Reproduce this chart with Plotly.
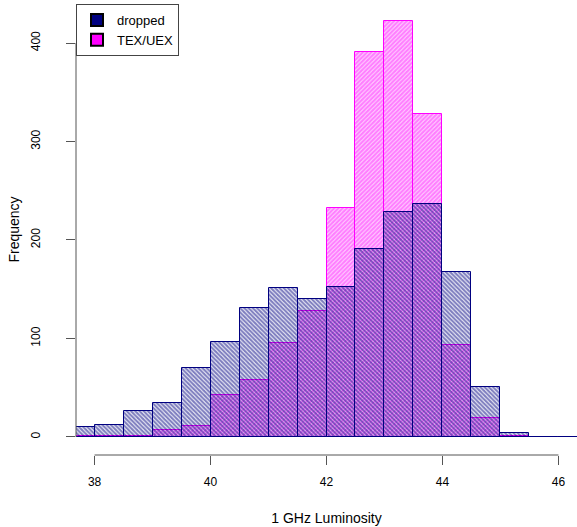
import plotly.graph_objects as go

bin_left = [37.5, 38.0, 38.5, 39.0, 39.5, 40.0, 40.5, 41.0, 41.5, 42.0, 42.5, 43.0, 43.5, 44.0, 44.5, 45.0, 45.5, 46.0]
dropped = [10, 12, 26, 35, 70, 96, 131, 151, 140, 152, 191, 228, 237, 168, 51, 4, 0, 0]
tex_uex = [1, 1, 1, 7, 11, 43, 58, 95, 128, 232, 391, 422, 328, 93, 19, 1, 0, 0]
bin_width = 0.5
x_ticks = [38, 40, 42, 44, 46]
y_ticks = [0, 100, 200, 300, 400]

centers = [b + bin_width / 2 for b in bin_left]
font = "Liberation Sans, Arial, sans-serif"

fig = go.Figure()
fig.add_trace(go.Bar(
    x=centers, y=tex_uex, width=bin_width, name="TEX/UEX", showlegend=False,
    marker=dict(color="rgba(0,0,0,0)", line=dict(color="#ff00ff", width=1),
                pattern=dict(shape="/", fgcolor="#ff00ff", bgcolor="rgba(0,0,0,0)",
                             size=3, solidity=0.8, fillmode="overlay")),
))
fig.add_trace(go.Bar(
    x=centers, y=dropped, width=bin_width, name="dropped", showlegend=False,
    marker=dict(color="rgba(0,0,0,0)", line=dict(color="#000080", width=1),
                pattern=dict(shape="\\", fgcolor="#000080", bgcolor="rgba(0,0,0,0)",
                             size=3, solidity=0.72, fillmode="overlay")),
))
# legend proxies
fig.add_trace(go.Scatter(x=[None], y=[None], mode="markers", name="dropped",
                         marker=dict(symbol="square", size=10, color="#000080",
                                     line=dict(color="black", width=1))))
fig.add_trace(go.Scatter(x=[None], y=[None], mode="markers", name="TEX/UEX",
                         marker=dict(symbol="square", size=10, color="#ff00ff",
                                     line=dict(color="black", width=1))))

# R-style axis lines spanning the tick range only
fig.add_shape(type="line", xref="x", yref="paper", x0=x_ticks[0], x1=x_ticks[-1], y0=0, y1=0,
              line=dict(color="#555555", width=1))
fig.add_shape(type="line", xref="paper", yref="y", x0=0, x1=0, y0=y_ticks[0], y1=y_ticks[-1],
              line=dict(color="#555555", width=1))

fig.update_layout(
    width=577, height=527,
    margin=dict(l=76, r=0, t=4, b=72),
    paper_bgcolor="white", plot_bgcolor="white",
    barmode="overlay", bargap=0,
    font=dict(family=font, size=12, color="black"),
    legend=dict(x=0, y=1, xanchor="left", yanchor="top", bgcolor="white",
                bordercolor="#444444", borderwidth=1, font=dict(size=13),
                itemsizing="constant"),
    xaxis=dict(range=[37.68, 46.32], tickvals=x_ticks, ticks="outside", ticklen=9,
               tickcolor="#555555", showgrid=False, zeroline=False, showline=False,
               automargin=False, ticklabelstandoff=7,
               title=dict(text="1 GHz Luminosity", standoff=24)),
    yaxis=dict(range=[-18.3, 439.6], tickvals=y_ticks, ticks="outside", ticklen=9,
               tickcolor="#555555", showgrid=False, zeroline=False, showline=False,
               automargin=False, ticklabelstandoff=21,
               tickangle=-90, title=dict(text="Frequency", standoff=6)),
)

fig.write_html("out.html", config={"displayModeBar": False},
               post_script="document.body.style.margin='0';document.body.style.overflow='hidden';")
